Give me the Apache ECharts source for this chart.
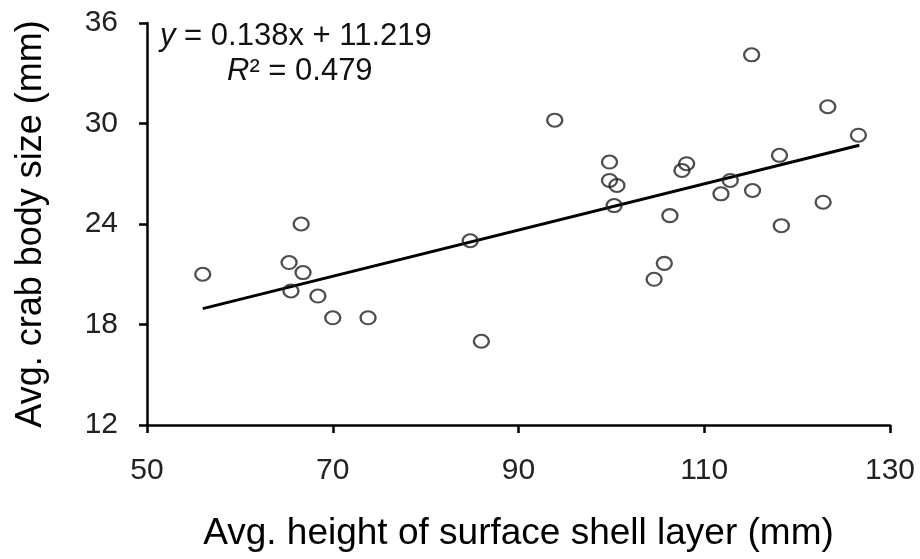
<!DOCTYPE html>
<html><head><meta charset="utf-8">
<script src="https://cdn.jsdelivr.net/npm/echarts@6/dist/echarts.min.js"></script>
<style>html,body{margin:0;padding:0;background:#fff}#c{width:920px;height:559px}</style>
</head><body><div id="c"></div>
<script>
// Avg. height of surface shell layer (mm)
const shellHeight = [56.0,65.3,66.6,66.8,65.5,68.4,70.0,73.8,84.8,86.0,93.9,99.8,99.8,100.6,100.3,106.3,107.6,108.1,111.8,112.8,115.1,115.2,118.1,118.3,123.3,122.8,126.6,105.7,104.6];
// Avg. crab body size (mm)
const crabSize = [21.0,21.7,24.0,21.1,20.0,19.7,18.4,18.4,23.0,17.0,30.2,27.7,26.6,26.3,25.1,24.5,27.2,27.6,25.8,26.6,34.1,26.0,28.1,23.9,31.0,25.3,29.3,21.65,20.7];
// trend line endpoints
const trendX = [56.0, 126.7];
const trendY = [18.95, 28.70];
const xTicks = [50,70,90,110,130];
const yTicks = [12,18,24,30,36];

const chart = echarts.init(document.getElementById('c'), null, {renderer:'canvas'});
const font = 'Liberation Sans, Arial, sans-serif';
const axisLine = {show:true, lineStyle:{color:'#000', width:2.5}};
chart.setOption({
  animation:false,
  grid:{left:147, top:23, right:30, bottom:134},
  xAxis:{type:'value', min:xTicks[0], max:xTicks[xTicks.length-1], interval:20,
    name:'Avg. height of surface shell layer (mm)', nameLocation:'middle', nameGap:90,
    nameTextStyle:{fontFamily:font, fontSize:37, color:'#000'},
    axisLine:axisLine, axisTick:{show:true, length:8, lineStyle:{color:'#000', width:2.5}},
    axisLabel:{fontFamily:font, fontSize:30, color:'#222', margin:31},
    splitLine:{show:false}},
  yAxis:{type:'value', min:yTicks[0], max:yTicks[yTicks.length-1], interval:6,
    name:'Avg. crab body size (mm)', nameLocation:'middle', nameGap:98, nameRotate:90,
    nameTextStyle:{fontFamily:font, fontSize:36, color:'#000'},
    axisLine:axisLine, axisTick:{show:true, length:8, lineStyle:{color:'#000', width:2.5}},
    axisLabel:{fontFamily:font, fontSize:30, color:'#222', margin:29},
    splitLine:{show:false}},
  series:[
    {type:'line', data:trendX.map((x,i)=>[x,trendY[i]]), symbol:'none',
     lineStyle:{color:'#000', width:3}, z:2},
    {type:'scatter', data:shellHeight.map((x,i)=>[x,crabSize[i]]),
     symbol:'circle', symbolSize:[15,13],
     itemStyle:{color:'rgba(255,255,255,0)', borderColor:'#222', borderWidth:2.2}, z:3}
  ],
  graphic:[
    {type:'text', left:160, top:21, style:{
      text:'{i|y} = 0.138x + 11.219', fontFamily:font, fontSize:31, fill:'#111',
      rich:{i:{fontStyle:'italic', fontFamily:font, fontSize:31}}}},
    {type:'text', left:227, top:56, style:{
      text:'{i|R}² = 0.479', fontFamily:font, fontSize:31, fill:'#111',
      rich:{i:{fontStyle:'italic', fontFamily:font, fontSize:31}}}}
  ]
});
</script></body></html>
